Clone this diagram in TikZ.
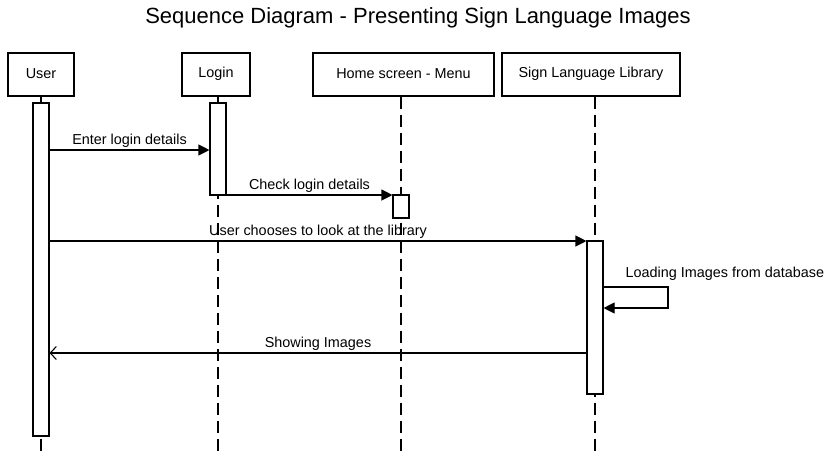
\documentclass[tikz,border=0pt]{standalone}
\usepackage{fontspec}
\setmainfont{Liberation Sans}
\usetikzlibrary{arrows.meta}
\begin{document}
\begin{tikzpicture}[x=1pt,y=-1pt,
  head/.style={draw, line width=2pt, minimum height=43pt, inner sep=0pt, font=\fontsize{14.4}{17}\selectfont, fill=white},
  bar/.style={draw, line width=1.1pt, fill=white, minimum width=16pt, inner sep=0pt},
  life/.style={draw, dash pattern=on 12pt off 6pt, line width=1.1pt},
  msg/.style={line width=1.1pt, -{Triangle[length=11pt,width=11pt]}},
  ret/.style={line width=1.1pt, -{Straight Barb[length=6pt,width=13pt]}},
  lbl/.style={font=\fontsize{14.4}{17}\selectfont, inner sep=1.5pt}]
\useasboundingbox (0,0) rectangle (834,451);
\node[font=\fontsize{22}{26}\selectfont] (title) at (418,18) {Sequence Diagram - Presenting Sign Language Images};

\node[head, minimum width=66pt] (user) at (41,74) {User};
\node[head, minimum width=68pt] (login) at (216,74) {Login};
\node[head, minimum width=181pt] (home) at (403.5,74) {Home screen - Menu};
\node[head, minimum width=178pt] (lib) at (591,74) {Sign Language Library};

\coordinate (uend) at (41,451);
\coordinate (lend) at (218,451);
\coordinate (hend) at (401,451);
\coordinate (send) at (595,451);

\draw[life] (user.south -| uend) -- (uend);
\draw[life] (login.south -| lend) -- (lend);
\draw[life] (home.south -| hend) -- (hend);
\draw[life] (lib.south -| send) -- (send);

\node[bar, minimum height=333pt] (ubar) at (41,269.5) {};
\node[bar, minimum height=92pt] (lbar) at (218,149) {};
\node[bar, minimum height=23pt] (hbar) at (401,206.5) {};
\node[bar, minimum height=153pt] (sbar) at (595,317.5) {};

\draw[msg] (ubar.east |- 0,150) -- node[lbl, above] {Enter login details} (lbar.west |- 0,150);
\draw[msg] (lbar.east |- 0,195) -- node[lbl, above] {Check login details} (hbar.west |- 0,195);
\draw[msg] (ubar.east |- 0,241) -- node[lbl, above] {User chooses to look at the library} (sbar.west |- 0,241);
\draw[msg] (sbar.east |- 0,287) -- (668,287) -- (668,308) -- (sbar.east |- 0,308);
\node[lbl, anchor=west] (selflbl) at (624,274) {Loading Images from database};
\draw[ret] (sbar.west |- 0,353) -- node[lbl, above] {Showing Images} (ubar.east |- 0,353);
\end{tikzpicture}
\end{document}
